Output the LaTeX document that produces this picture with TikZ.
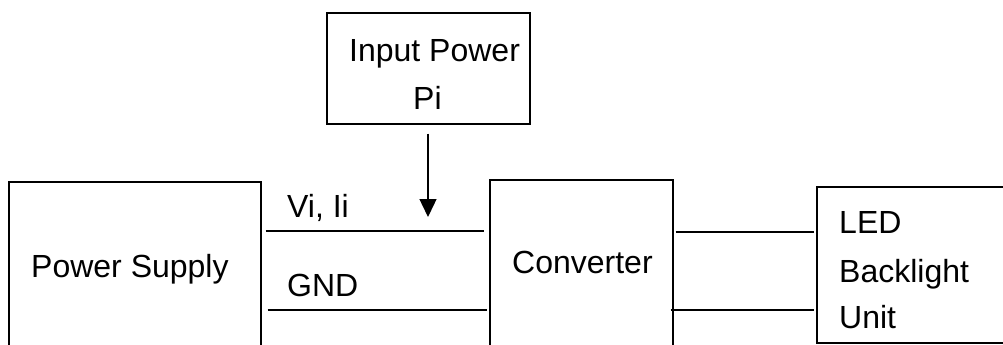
\documentclass[tikz,border=0pt]{standalone}
\usepackage{fontspec}
\setmainfont{Liberation Sans}
\usetikzlibrary{arrows.meta}
\begin{document}
\begin{tikzpicture}[x=1pt,y=-1pt,
  box/.style={draw,line width=1.4pt,rectangle,inner sep=0pt},
  wire/.style={line width=1.4pt},
  lbl/.style={font=\fontsize{32}{38}\selectfont,anchor=base west,inner sep=0pt}]
\useasboundingbox (0,0) rectangle (1003,345);
% boxes (corner-to-corner)
\node[box,minimum width=203pt,minimum height=111pt] (ip) at (428.5,68.5) {};
\node[box,minimum width=252pt,minimum height=300pt] (ps) at (135,332) {};
\node[box,minimum width=183pt,minimum height=300pt] (conv) at (581.5,330) {};
\node[box,minimum width=200pt,minimum height=156pt] (led) at (917,265) {};
% texts
\node[lbl] (tip1) at (349,62) {Input Power};
\node[lbl] (tip2) at (413,109) {Pi};
\node[lbl] (tps) at (31,277) {Power Supply};
\node[lbl] (tconv) at (512,273) {Converter};
\node[lbl] (tled1) at (839,233) {LED};
\node[lbl] (tled2) at (839,282) {Backlight};
\node[lbl] (tled3) at (839,328) {Unit};
\node[lbl] (tvi) at (287,217) {Vi, Ii};
\node[lbl] (tgnd) at (287,296) {GND};
% wires
\draw[wire,shorten <=4pt,shorten >=5pt] (ps.east |- 0,231) -- (conv.west |- 0,231);
\draw[wire,shorten <=6pt,shorten >=2pt] (ps.east |- 0,310) -- (conv.west |- 0,310);
\draw[wire,shorten <=2pt,shorten >=2pt] (conv.east |- 0,232) -- (led.west |- 0,232);
\draw[wire,shorten <=-3pt,shorten >=2pt] (conv.east |- 0,310) -- (led.west |- 0,310);
% input arrow
\coordinate (arrEnd) at (428,217);
\draw[wire,shorten <=9pt,-{Triangle[length=18pt,width=17pt]}] (ip.south -| arrEnd) -- (arrEnd);
\end{tikzpicture}
\end{document}
